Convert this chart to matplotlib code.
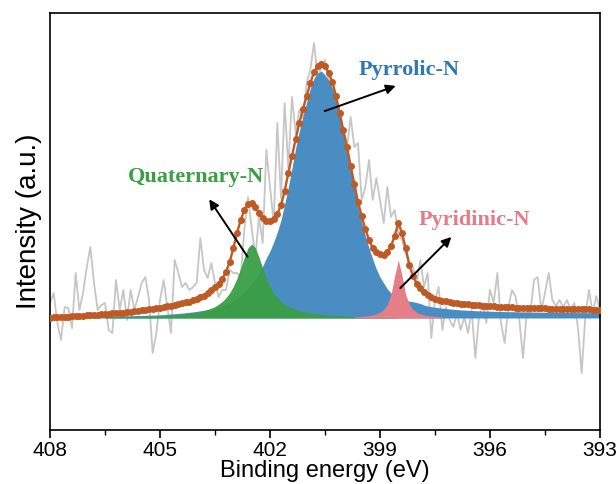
import numpy as np
import matplotlib
matplotlib.use("Agg")
import matplotlib.pyplot as plt
from matplotlib.ticker import MultipleLocator

# N 1s spectrum, 408 -> 393 eV in 0.1 eV steps (151 points)
energy = np.round(np.linspace(408, 393, 151), 1)

# raw counts (grey, noisy), baseline-subtracted, arbitrary units
raw = [15, 25, -5, -22, 11, 10, -10, 45, 8, 25,
       50, 71, 35, 8, 13, 15, -12, -15, 38, 8,
       28, -2, 28, 8, 21, 35, 41, 18, -35, -15,
       18, 38, 11, -15, 58, 45, 31, 35, 28, 31,
       35, 80, 48, 40, 55, 35, 21, 28, 28, 48,
       45, 45, 41, 88, 121, 90, 61, 101, 75, 168,
       131, 95, 195, 120, 215, 150, 221, 185, 208, 200,
       235, 248, 275, 240, 251, 258, 238, 215, 208, 190,
       185, 171, 201, 171, 175, 118, 131, 158, 118, 140,
       118, 95, 131, 101, 108, 85, 78, 65, 55, 51,
       35, 58, 31, 45, -20, 18, 31, -12, 11, -2,
       -9, 5, -12, 1, -15, 8, -40, 1, 15, -5,
       28, 15, 45, -5, -25, 11, 28, 21, -2, -40,
       5, 5, 38, 41, 8, 25, 45, 18, 12, 18,
       11, 18, 8, 15, -10, -55, 2, 28, 5, 22,
       8]

# fitted envelope (brown)
envelope = [0.5, 0.7, 0.9, 1.1, 1.3, 1.5, 1.7, 1.9, 2.1, 2.4,
            2.6, 2.9, 3.1, 3.4, 3.7, 4.0, 4.3, 4.6, 4.9, 5.2,
            5.5, 5.9, 6.3, 6.7, 7.1, 7.6, 8.1, 8.6, 9.2, 9.8,
            10.5, 11.1, 11.8, 12.5, 13.2, 14.0, 14.8, 15.6, 16.5, 17.6,
            19.0, 20.6, 22.5, 25.0, 27.8, 31.0, 34.5, 39.5, 46, 56,
            70, 85, 98, 108, 114, 115, 111, 105, 100, 97.5,
            97, 99, 104, 113, 127, 145, 162, 179, 195, 209,
            222, 235, 246, 252, 254, 252, 245, 236, 222, 205,
            188, 171, 152, 134, 116, 102, 89, 78, 70, 66,
            64, 63.5, 66, 72, 82, 95, 85, 70, 53, 42,
            34, 30, 26, 23, 21, 19.5, 18.3, 17.4, 16.6, 16.0,
            15.4, 14.9, 14.4, 14.0, 13.6, 13.2, 12.9, 12.6, 12.3, 12.0,
            11.8, 11.6, 11.4, 11.2, 11.0, 10.8, 10.7, 10.5, 10.4, 10.2,
            10.1, 10.0, 9.9, 9.8, 9.7, 9.6, 9.5, 9.4, 9.3, 9.2,
            9.1, 9.0, 8.9, 8.9, 8.8, 8.7, 8.7, 8.6, 8.5, 8.5,
            8.4]

# component peaks
pyrrolic = [0.5, 0.5, 0.6, 0.6, 0.7, 0.7, 0.8, 0.8, 0.9, 1.0,
            1.1, 1.2, 1.3, 1.4, 1.5, 1.6, 1.7, 1.8, 1.9, 2.0,
            2.1, 2.2, 2.3, 2.4, 2.5, 2.6, 2.7, 2.8, 2.9, 3.0,
            3.2, 3.4, 3.7, 4.0, 4.3, 4.6, 4.9, 5.3, 5.7, 6.1,
            6.6, 7.2, 7.8, 8.5, 9.2, 10, 11, 12, 13.5, 15,
            17, 19.5, 22.5, 26, 30, 34, 39, 45, 52, 60,
            67, 76, 86, 98, 114, 131, 150, 170, 187, 202,
            216, 230, 240, 245, 247,
            243, 238, 230, 219, 203, 185, 168, 150, 131, 112,
            96, 82, 70, 59, 49, 41, 35, 29, 25, 22,
            20, 18.5, 17.5, 16.8, 16.2, 15.5, 14.5, 13, 12, 11.3,
            10.7, 10.2, 9.8, 9.4, 9.1, 8.7, 8.4, 8.1, 7.9, 7.7,
            7.5, 7.3, 7.1, 7.0, 6.9, 6.8, 6.7, 6.6, 6.5, 6.4,
            6.3, 6.3, 6.2, 6.1, 6.1, 6.0, 6.0, 5.9, 5.9, 5.8,
            5.8, 5.7, 5.7, 5.6, 5.6, 5.5, 5.5, 5.5, 5.4, 5.4,
            5.4, 5.3, 5.3, 5.3, 5.2, 5.2]

# quaternary-N, points 15..95 (406.5 -> 398.5 eV)
quaternary = [0.85, 0.89, 0.93, 0.99, 1.04, 1.10, 1.16, 1.24, 1.31, 1.40,
              1.49, 1.59, 1.71, 1.83, 1.97, 2.13, 2.30, 2.50, 2.72, 2.98,
              3.27, 3.61, 4.00, 4.45, 4.99, 5.62, 6.38, 7.30, 8.42, 9.81,
              11.5, 13.8, 16.6, 20.3, 25.1, 31.5, 39.7, 49.8, 60.8, 70.2,
              74.0,
              70.2, 60.8, 49.8, 39.7, 31.5, 25.1, 20.3, 16.6, 13.8, 11.5,
              9.81, 8.42, 7.30, 6.38, 5.62, 4.99, 4.45, 4.00, 3.61, 3.27,
              2.98, 2.72, 2.50, 2.30, 2.13, 1.97, 1.83, 1.71, 1.59, 1.49,
              1.40, 1.31, 1.24, 1.16, 1.10, 1.04, 0.99, 0.93, 0.89, 0.85]
quat_range = (15, 96)

# pyridinic-N, points 83..107 (399.7 -> 397.3 eV)
pyridinic = [1.08, 1.28, 1.54, 1.89, 2.37, 3.05, 4.1, 5.7, 8.4, 13.5,
             23.5, 42.4, 58.0, 42.4, 23.5, 13.5, 8.4, 5.7, 4.1, 3.05,
             2.37, 1.89, 1.54, 1.28, 1.08]
pyri_range = (83, 108)

plt.rcParams['font.family'] = ['Liberation Sans', 'DejaVu Sans']

fig = plt.figure(figsize=(6.16, 4.84), dpi=100)
ax = fig.add_axes([50 / 616, 54 / 484, 550 / 616, 417 / 484])

ax.plot(energy, raw, color='#c6c6c6', lw=1.3, zorder=1)

ax.fill_between(energy, 0, pyrrolic, color='#4a8dc3', lw=0, zorder=2)
e_q = energy[quat_range[0]:quat_range[1]]
ax.fill_between(e_q, 0, quaternary, color='#3a9e44', lw=0, alpha=0.95,
                zorder=3)
e_p = energy[pyri_range[0]:pyri_range[1]]
ax.fill_between(e_p, 0, pyridinic, color='#e67e88', lw=0, zorder=3)

ax.plot(energy, envelope, color='#c05a25', lw=1.7, marker='o', ms=4,
        zorder=4)

serif = ['Liberation Serif', 'DejaVu Serif']
arrow = dict(arrowstyle='-|>', color='black', lw=1.4, mutation_scale=14)
ax.annotate('', xy=(398.5, 233), xytext=(400.58, 206),
            arrowprops=arrow, zorder=5)
ax.annotate('', xy=(403.7, 121), xytext=(402.57, 59),
            arrowprops=arrow, zorder=5)
ax.annotate('', xy=(397.0, 83), xytext=(398.5, 28),
            arrowprops=arrow, zorder=5)
ax.text(398.2, 248, 'Pyrrolic-N', color='#2e79b5', fontsize=16,
        fontweight='bold', family=serif, ha='center', va='center')
ax.text(404.03, 141, 'Quaternary-N', color='#3a9e44', fontsize=16,
        fontweight='bold', family=serif, ha='center', va='center')
ax.text(396.42, 98, 'Pyridinic-N', color='#e57b86', fontsize=16,
        fontweight='bold', family=serif, ha='center', va='center')

ax.set_xlim(408, 393)
ax.set_ylim(-112, 305)
ax.set_xticks([408, 405, 402, 399, 396, 393])
ax.xaxis.set_minor_locator(MultipleLocator(1.5))
ax.set_yticks([])
ax.tick_params(axis='x', which='major', direction='out', length=6,
               width=1.2, labelsize=15, pad=2)
ax.tick_params(axis='x', which='minor', direction='out', length=3.5,
               width=1.0)
for s in ax.spines.values():
    s.set_linewidth(1.2)

ax.set_xlabel('Binding energy (eV)', fontsize=17, labelpad=0)
ax.set_ylabel('Intensity (a.u.)', fontsize=20, labelpad=6)

fig.savefig('out.png', dpi=100)
